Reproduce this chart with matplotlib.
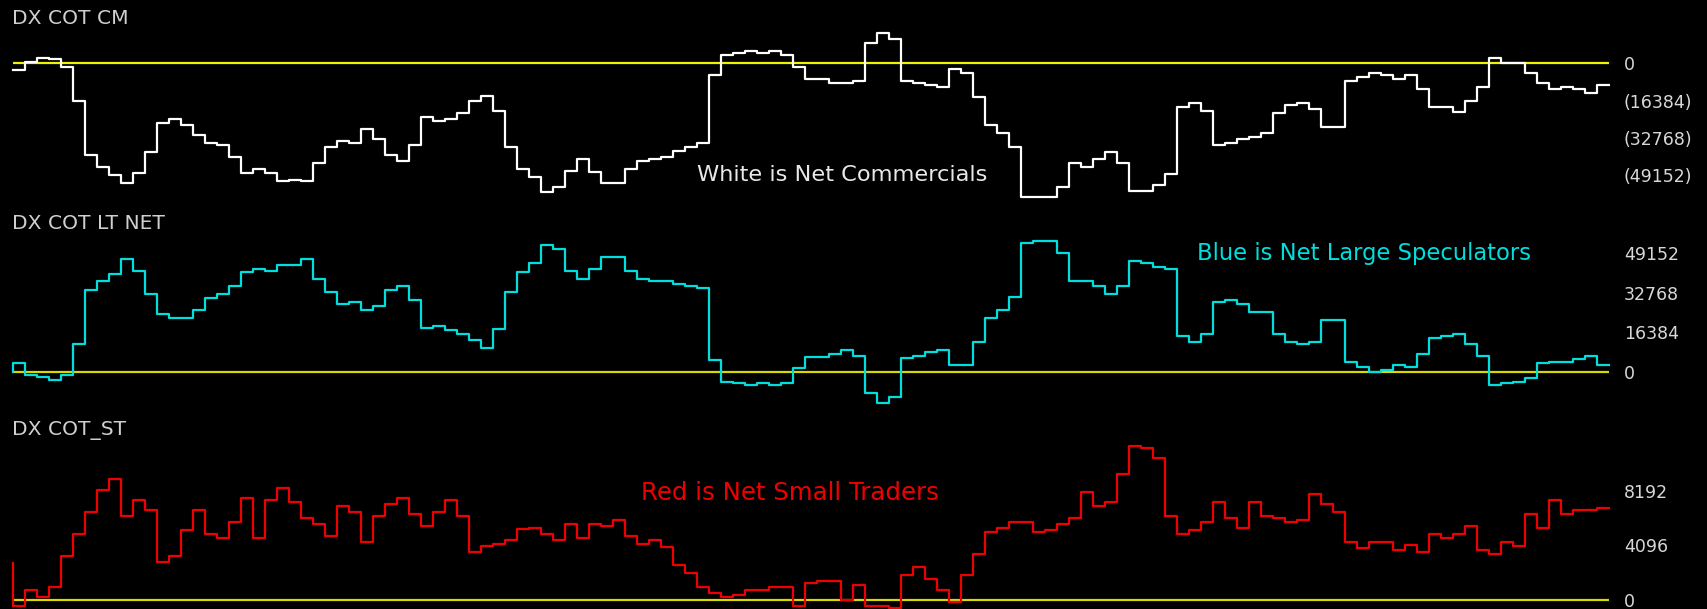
import numpy as np
import matplotlib.pyplot as plt

# DX (US dollar index) commitments of traders, net positions per week.
# First entry of each list is the value carried in from the week before the window.
commercials = [
    -2900,
    -2900, 700, 2600, 1800, -1800, -16600, -40300, -45800, -49100, -52800,
    -48400, -38900, -26400, -24600, -27300, -31700, -35200, -36100, -41400, -48400,
    -46700, -48400, -52100, -51300, -52100, -44000, -36800, -34300, -35200, -29000,
    -33400, -40300, -43100, -36100, -23800, -25400, -24500, -22000, -16700, -14200,
    -21100, -36800, -46800, -50200, -56900, -54700,
    -47400, -42300, -48100, -52700, -52700, -46700, -43300, -42300, -41100, -38600,
    -36800, -35200, -5300, 3500, 4500, 5400, 4700, 5400, 3700, -1600,
    -7000, -7000, -8800, -8800, -7800, 8800, 13400, 10600, -7800, -8700,
    -9700, -10600, -2500, -4300, -15000, -27300, -30700, -36700, -59000, -59000,
    -59000, -54600, -43900, -45900, -42100, -38900, -44000,
    -56200, -56200, -53700, -49000, -19400, -17600, -21000, -35900, -35200, -33400,
    -32300, -30800, -22000, -18500, -17500, -20000, -28200, -28200, -7600, -6200,
    -4400, -5300, -7000, -5300, -11300, -19400, -19400, -21300, -16400, -10600,
    2600, 300, 300, -4400, -8800, -11400, -10600, -11300, -13200, -9700,
]

large_specs = [
    0,
    3400, -1400, -2300, -3300, -1400, 11600, 33700, 37800, 40400, 46800,
    41900, 32100, 23900, 22200, 22200, 25700, 30400, 32100, 35400, 41200,
    42700, 41900, 44400, 44400, 46800, 38600, 33000, 28000, 28900, 25500,
    27200, 33900, 35400, 29800, 18200, 19000, 17300, 15700, 13200, 10000,
    17500, 33000, 41200, 45200, 52600, 50900,
    41900, 38600, 42700, 47600, 47600, 41900, 38600, 37800, 37800, 36200,
    35400, 34500, 4900, -4100, -4800, -5700, -4800, -5700, -4800, 1600,
    5900, 5900, 7500, 9100, 6700, -8900, -13000, -10600, 5700, 6700,
    8200, 9100, 2600, 2600, 12300, 22200, 25500, 31100, 53200, 54200,
    54200, 49300, 37800, 37800, 35400, 32100, 35400,
    46000, 45200, 43500, 42700, 14700, 12300, 15700, 28700, 29600, 28000,
    24600, 24600, 15700, 12300, 11500, 12300, 21400, 21400, 4100, 1800,
    0, 700, 2600, 1800, 7500, 14100, 14900, 15700, 11600, 6700,
    -5700, -4800, -4100, -2500, 3400, 4100, 4100, 5100, 6700, 2600,
]

small_traders = [
    2730,
    -450, 740, 170, 920, 3300, 4910, 6570, 8230, 9100, 6300,
    7490, 6750, 2830, 3300, 5260, 6750, 4910, 4640, 5800, 7640,
    4640, 7490, 8380, 7370, 6150, 5680, 4790, 7020, 6600, 4290,
    6300, 7170, 7640, 6420, 5510, 6600, 7490, 6300, 3570, 4040,
    4170, 4490, 5280, 5410, 4960, 4490,
    5680, 4640, 5680, 5510, 6000, 4790, 4170, 4490, 3920, 2580,
    1980, 920, 500, 170, 320, 740, 740, 920, 920, -450,
    1240, 1360, 1360, 0, 1070, -450, -450, -620, 1810, 2430,
    1510, 740, -150, 1810, 3450, 5060, 5380, 5850, 5850, 5060,
    5230, 5680, 6130, 8080, 7020, 7340, 9420,
    11530, 11360, 10610, 6300, 4940, 5260, 5830, 7340, 6150, 5380,
    7340, 6300, 6150, 5830, 6000, 7940, 7190, 6600, 4340, 3890,
    4340, 4340, 3740, 4070, 3600, 4940, 4660, 4940, 5530, 3740,
    3450, 4340, 4040, 6420, 5380, 7490, 6420, 6720, 6720, 6870,
]

panels = [
    # title, series, colour, zero line colour, ylim, ticks, tick labels, note, note pos, note size
    ("DX COT CM", commercials, "#ffffff", "#f2f200", (-60300, 28000),
     [0, -16384, -32768, -49152], ["0", "(16384)", "(32768)", "(49152)"],
     "White is Net Commercials", (0.523, 0.125), 16.2),
    ("DX COT LT NET", large_specs, "#00dede", "#d8d800", (-15900, 71200),
     [49152, 32768, 16384, 0], ["49152", "32768", "16384", "0"],
     "Blue is Net Large Speculators", (0.8475, 0.743), 16.3),
    ("DX COT_ST", small_traders, "#ee0000", "#d8d800", (-710, 14250),
     [8192, 4096, 0], ["8192", "4096", "0"],
     "Red is Net Small Traders", (0.4907, 0.583), 17.6),
]

# panel rows in pixels (top, bottom, title offset) on a 609 px tall canvas
rows = [(0, 200, 18), (200, 410, 24), (410, 609, 21)]

fig = plt.figure(figsize=(17.07, 6.09), dpi=100, facecolor="black")
plt.rcParams["font.family"] = ["DejaVu Sans"]

for (title, vals, col, zcol, ylim, ticks, labels, note, npos, nsize), (top, bot, toff) in zip(panels, rows):
    ax = fig.add_axes([0, 1 - bot / 609, 1610 / 1707, (bot - top) / 609])
    ax.set_facecolor("black")
    n = len(vals) - 1
    x = np.arange(n + 1)
    ax.hlines(0, 0, n, color=zcol, lw=1.6, zorder=1)
    ax.plot(x, vals, drawstyle="steps-pre", color=col, lw=1.6, zorder=2)
    ax.set_xlim(-12.7 / 12, (1610 - 12.7) / 12)
    ax.set_ylim(*ylim)
    for s in ax.spines.values():
        s.set_visible(False)
    ax.set_xticks([])
    ax.yaxis.tick_right()
    ax.set_yticks(ticks)
    ax.set_yticklabels(labels)
    ax.tick_params(axis="y", length=0, pad=10, labelsize=12.5, labelcolor="#d8d8d8")
    ax.text(12 / 1610, 1 - toff / (bot - top), title,
            transform=ax.transAxes, color="#cfcfcf", fontsize=14.6,
            ha="left", va="center")
    ax.text(npos[0], npos[1], note, transform=ax.transAxes,
            color="#e8e8e8" if col == "#ffffff" else col,
            fontsize=nsize, ha="center", va="center")

fig.savefig("out.png", dpi=100, facecolor="black")
